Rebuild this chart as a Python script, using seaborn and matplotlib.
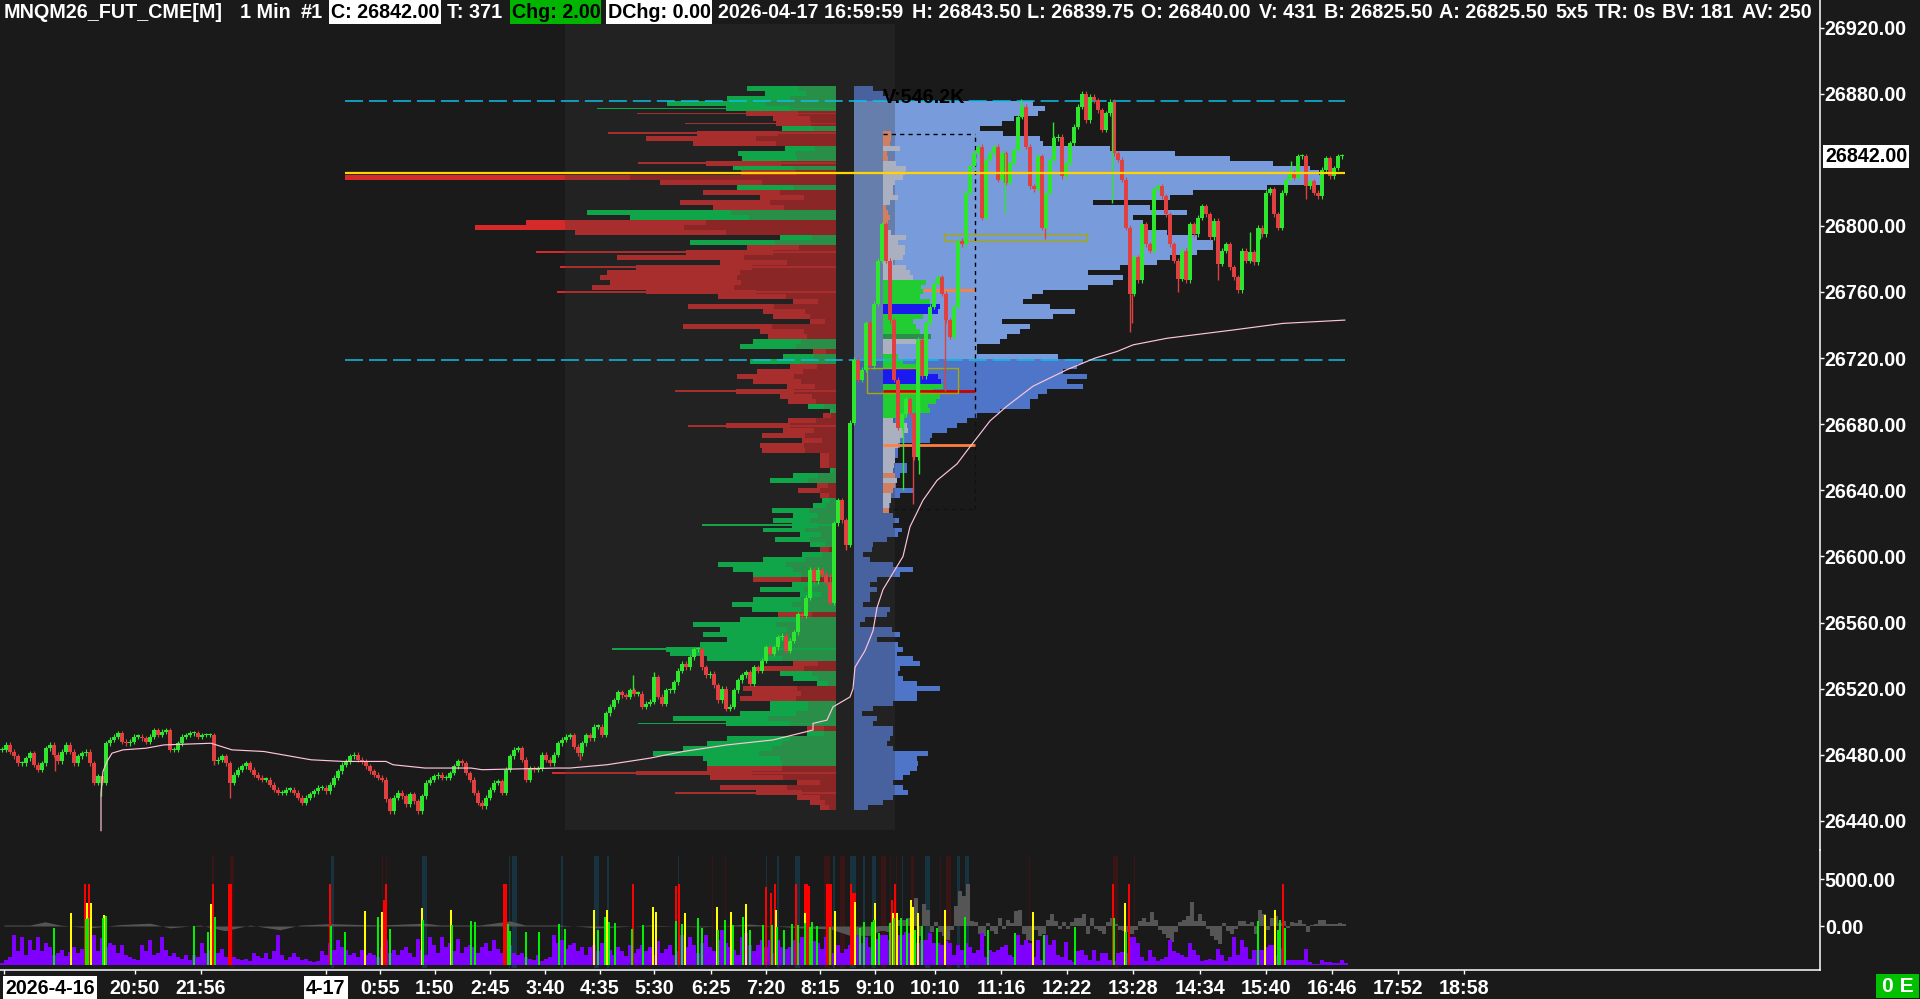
import numpy as np
import pandas as pd
import matplotlib
matplotlib.use('Agg')
import matplotlib.pyplot as plt
from matplotlib.patches import Rectangle
import seaborn as sns

# price candles, one every 4 bars
close = [26483,26486,26482,26479,26475,26475,26478,26481,26474,26471,26475,26484,26486,26480,26476,26482,26486,26482,26475,26479,
26481,26482,26475,26463,26467,26463,26487,26489,26491,26493,26488,26487,26488,26491,26491,26490,26488,26491,26495,26492,
26494,26495,26483,26483,26487,26491,26492,26493,26493,26491,26492,26492,26492,26476,26477,26479,26475,26463,26468,26471,
26473,26475,26471,26468,26466,26465,26465,26462,26459,26457,26457,26459,26459,26457,26454,26451,26454,26456,26458,26460,
26460,26458,26462,26466,26470,26474,26476,26479,26480,26477,26476,26473,26470,26468,26466,26465,26453,26446,26454,26457,
26455,26450,26456,26452,26446,26455,26463,26465,26467,26468,26466,26466,26469,26473,26476,26475,26469,26465,26457,26451,
26449,26454,26459,26463,26464,26457,26471,26479,26483,26484,26477,26465,26472,26471,26472,26480,26477,26475,26480,26487,
26489,26491,26492,26485,26481,26487,26492,26490,26497,26497,26492,26505,26509,26513,26518,26516,26515,26519,26517,26517,
26509,26511,26512,26527,26515,26511,26519,26519,26524,26531,26535,26533,26539,26544,26544,26533,26528,26529,26522,26513,
26520,26508,26509,26519,26525,26528,26530,26523,26533,26531,26537,26545,26541,26545,26551,26552,26543,26549,26554,26565,
26564,26575,26592,26585,26592,26589,26584,26572,26620,26634,26622,26607,26681,26719,26707,26713,26741,26715,26753,26779,
26801,26779,26743,26707,26678,26686,26695,26686,26660,26731,26709,26741,26751,26765,26769,26759,26743,26733,26751,26791,
26789,26820,26836,26844,26848,26805,26840,26844,26848,26828,26844,26826,26838,26846,26866,26872,26848,26824,26822,26842,
26799,26820,26840,26853,26854,26830,26838,26850,26860,26872,26880,26864,26878,26876,26870,26858,26868,26875,26844,26840,
26828,26799,26759,26781,26767,26801,26789,26785,26822,26824,26818,26807,26789,26779,26768,26785,26767,26801,26795,26805,
26812,26807,26793,26803,26777,26785,26789,26775,26769,26761,26785,26779,26784,26778,26799,26795,26820,26822,26807,26799,
26820,26828,26832,26829,26842,26842,26824,26827,26820,26818,26834,26841,26830,26835,26842,26842]
# long wicks: bar, far end price
wick_bar = [101,230,55,214,480,580,633,654,830,846,913,903,919,945,1005,1021,1045,1053,1112,1130,1132,1178,1218,1250,1260,1291,1306]
wick_end = [26455,26454,26470,26474,26449,26477,26528,26530,26590,26604,26632,26640,26650,26700,26808,26877,26792,26863,26814,26736,26741,26760,26767,26796,26792,26839,26816]

# VWAP study
vwap_bar = [101,101,103,107,112,123,146,164,211,232,264,311,343,386,393,425,471,482,557,
570,607,650,683,727,773,813,813,827,833,850,853,855,865,873,877,883,893,903,910,
923,937,957,967,990,1007,1033,1067,1095,1117,1133,1167,1233,1283,1345]
vwap_val = [26434,26457,26470,26476,26481,26483,26484,26486,26487,26483,26482,26477,26476,26476,26474,26472,26472,26471,26472,
26472,26474,26478,26482,26486,26489,26495,26499,26501,26509,26515,26520,26533,26543,26555,26569,26580,26590,26600,26618,
26634,26646,26656,26664,26682,26691,26703,26713,26720,26724,26728,26732,26737,26741,26743]

# bid/ask profile, positive is green, negative is red
left_delta = [89,71,109,169,110,-90,-63,-60,54,-139,-190,-143,51,98,94,-130,103,-95,-491,-176,99,-133,-76,-156,-123,249,206,
-310,-361,-261,56,146,-89,-150,-219,-116,-200,-229,-236,-226,-244,-190,-118,-43,-148,-73,-63,-26,-153,-76,-68,83,96,-23,53,86,
-46,-79,-99,-83,-49,-100,-56,-48,28,6,-13,-48,-110,-53,-74,-34,-76,-74,-16,-16,-16,6,43,66,-19,-38,-16,
14,23,64,43,63,44,73,36,61,26,-16,34,73,118,103,83,-83,44,76,36,83,104,84,-58,96,143,116,133,109,136,170,166,129,-43,-76,56,43,
19,-93,-84,-96,66,66,96,163,110,-29,29,109,129,153,183,133,129,-129,-200,-126,-39,-116,-80,-39,-26,-16]
# single tick rows that stick out of the profile
thin_price = [26871,26868,26862,26856,26838,26784,26775,26760,26700,26679,26619,26544,26499,26469,26457]
thin_delta = [239,-199,-151,-228,-198,-300,-276,-279,-161,-148,134,224,198,-284,-161]

# volume profile of the whole range
right_vol = [19,29,35,179,191,184,160,148,126,149,186,189,256,321,376,419,456,465,470,470,413,339,316,239,296,333,279,289,286,313,
343,359,359,343,316,303,266,234,269,259,234,189,178,169,196,221,199,148,176,166,153,146,123,123,204,229,223,209,233,213,229,193,
184,176,176,146,123,113,103,93,78,76,46,44,44,39,53,53,46,42,42,59,46,33,36,33,39,45,39,48,44,33,19,18,9,16,39,59,46,23,16,23,16,
16,9,36,33,11,6,38,46,23,44,49,43,59,66,46,44,49,63,86,63,63,39,19,8,23,19,39,39,36,33,39,74,63,64,63,56,49,39,49,54,39,29,14]

# day session profile
day_vol = [8,8,7,17,4,5,13,23,22,20,12,10,10,15,7,3,5,7,5,3,8,23,15,22,22,20,10,23,27,30,
43,38,40,37,47,57,55,40,30,33,37,48,33,10,13,15,20,33,40,55,58,60,50,57,53,45,47,23,10,
24,25,20,17,15,12,12,12,11,10,12,14,12,10,8,8,6,6]
day_kind = list('ooogoogggggggggoooooggggggggggGGGGGBBGGGGDgggGGGBBBGGGGGGGg'
                'ggggggggggogoogggo')

# bottom study
vol = [2,5,8,30,14,28,10,25,15,28, 14,22,18,10,12,15,9,13,18,12, 16,20,28,30,14,27,18,22,20,12,
20,10,8,6,5,20,14,25,10,12, 28,15,9,12,8,6,10,5,10,8, 22,12,15,9,12,16,8,5,8,6,
5,6,4,12,9,7,12,6,14,30, 10,5,8,12,8,5,6,4,3,4, 14,10,22,15,25,18,15,10,12,8,
15,10,12,10,8,18,25,12,15,10, 15,18,12,8,26,15,10,28,20,12, 28,18,22,14,26,12,18,20,18,12,
18,22,14,25,16,12,30,20,12,10, 12,8,6,5,10,4,6,8,30,22, 25,16,20,22,14,18,10,18,20,14,
22,12,15,10,18,14,9,20,12,16, 20,14,18,10,24,12,16,20,10,14, 30,18,28,20,12,22,30,18,14,25,
35,22,18,15,10,28,32,20,14,20, 25,18,25,12,25,18,16,18,25,22, 28,18,30,24,22,16,28,18,12,20,
12,16,20,14,30,22,28,18,30,26,
30,30,25,30,30,30,33,32,30,22,25,25,32,22,22,20,24,22,10,20,15,22,18,12,15,32,8,15,13,15,18,20,10,8,30,20,25,22,8,25,
5,30,20,25,10,8,23,5,3,14,15,10,5,15,4,12,12,5,4,12,13,12,28,28,22,8,4,15,8,4,6,8,25,14,12,10,8,22,15,10,
4,5,6,5,16,10,4,8,28,10,25,18,6,15,15,15,18,20,20,10,17,5,5,5,5,5,16,3,1,1,5,3,3,2,2,5,2]
red_bar = [85,89,213,229,231,330,384,386,504,506,633,676,679,766,771,775,796,805,807,809,827,829,831,851,853,855,892,895,1113,1129,1283]
red_h = [81,81,81,81,81,81,65,81,81,81,81,79,81,78,72,81,81,81,81,79,81,81,81,81,72,72,65,81,81,81,81]
yellow_bar = [71,87,91,104,211,365,382,422,451,594,607,653,656,685,717,731,746,776,805,835,855,875,893,897,911,913,918,945,1033,1125,1265,1275]
yellow_h = [52,62,62,50,61,54,53,57,55,55,55,58,53,52,58,53,61,55,52,54,63,62,52,52,65,58,52,55,53,62,50,55]
green_bar = [54,86,88,103,106,194,208,215,331,345,378,390,423,452,471,475,508,510,526,539,559,565,598,605,609,615,632,643,676,682,698,
702,718,725,733,743,750,763,772,777,784,792,798,805,810,812,817,830,860,864,872,874,879,890,894,901,907,915,922,937,965,988,1015,1044,1075,1114,1126,1258,1278,1280,1285]
green_h = [37,46,47,47,49,39,33,48,39,33,48,36,45,40,44,43,41,34,33,33,41,36,35,48,43,42,36,40,44,41,47,
37,35,45,40,48,35,40,40,38,35,41,40,42,38,43,39,38,37,43,43,45,32,42,47,47,46,35,39,37,48,35,32,30,38,47,33,44,35,45,37]
# delta study: quiet part as pivots, busy part every 4 bars from bar 880
delta_bar = [4,30,45,60,90,120,150,170,200,225,250,280,300,330,380,425,440,480,510,525,560,600,650,700,750,800,830,850,870,880]
delta_val = [100,100,450,100,-200,150,300,-200,100,-500,100,-400,100,250,100,300,100,100,550,100,100,-200,100,-100,200,-200,-300,-1000,-1000,-500]
delta_late = [-5,-5,-6,4,5,6,6,8,15,28,-10,22,16,-6,4,-6,-10,-14,-4,20,35,30,42,5,4,-8,-10,3,-5,-8,8,-3,6,3,15,16,-8,-14,-15,-4,
-10,-8,6,12,5,-3,4,-3,4,8,8,12,-8,8,-3,-5,-8,4,8,2,-4,-5,-6,-8,-4,5,8,4,14,6,-4,-8,-12,-16,-6,4,6,10,24,5,
12,5,-3,-10,-14,-18,3,-5,-8,-3,5,5,2,4,-8,16,12,-4,8,10,3,5,-2,4,3,6,2,-6,1,2,6,6,2,2,2,3,2]
blue_band = [332,424,509,514,562,596,608,678,766,778,797,834,853,864,874,902,927,958,967]
blue_band_w = [3,5,1,5,2,5,2,1,1,2,5,2,6,2,4,1,5,3,4]
red_band = [213,232,382,386,712,725,827,842,883,890,896,912,940,948,1029,1115,1134]
red_band_w = [2,4,1,1,1,1,6,5,5,1,1,3,1,5,1,5,1]

price_ticks = [26920,26880,26800,26760,26720,26680,26640,26600,26560,26520,26480,26440]
time_bars = [50,135,201,326,380,435,490,545,600,654,711,766,820,875,935,1001,1067,1133,1200,1266,1332,1398,1464]
time_labels = ['2026-4-16','20:50','21:56','4-17','0:55','1:50','2:45','3:40','4:35','5:30','6:25','7:20','8:15','9:10',
               '10:10','11:16','12:22','13:28','14:34','15:40','16:46','17:52','18:58']

BG = '#1a1a1a'
W, H = 1920, 999
sns.set_theme(style='dark', rc={'figure.facecolor': BG, 'axes.facecolor': 'none', 'savefig.facecolor': BG})
plt.rcParams['font.family'] = ['Liberation Sans', 'DejaVu Sans']
plt.rcParams['font.weight'] = 'bold'
FS = 14.2


def px_axes(x0, y0, x1, y1, z):
    a = fig.add_axes([x0 / W, 1 - y1 / H, (x1 - x0) / W, (y1 - y0) / H], zorder=z)
    a.set_facecolor('none')
    return a


def price_at(y):
    return 26920 - (y - 27.5) / 1.653


fig = plt.figure(figsize=(W / 100, H / 100), dpi=100)
ylim = (price_at(850), price_at(0))

# bid/ask profile grows left from its base
ax_l = px_axes(345, 0, 836, 850, 1)
left = pd.DataFrame({'price': 26883 - 3 * np.arange(len(left_delta)), 'vol': np.abs(left_delta),
                     'side': np.where(np.array(left_delta) > 0, 'up', 'down')})
left['inner'] = left['vol'] * 0.42
sns.barplot(data=left, x='vol', y='price', hue='side', orient='y', native_scale=True, dodge=False, width=1,
            palette={'up': '#00d250', 'down': '#d62a2a'}, saturation=1, linewidth=0, errorbar=None, legend=False, ax=ax_l)
sns.barplot(data=left, x='inner', y='price', hue='side', orient='y', native_scale=True, dodge=False, width=1,
            palette={'up': '#25b24f', 'down': '#ac2020'}, saturation=1, linewidth=0, errorbar=None, legend=False, ax=ax_l)
ax_l.barh(thin_price, np.abs(thin_delta), height=1.0, lw=0,
          color=np.where(np.array(thin_delta) > 0, '#00d250', '#d62a2a'))
ax_l.set_xlim(491, 0)
ax_l.set_ylim(*ylim)
ax_l.axis('off')

# volume profile grows right, lighter inside the value area
ax_r = px_axes(854, 0, 1345, 850, 1)
right = pd.DataFrame({'price': 26883 - 3 * np.arange(len(right_vol)), 'vol': right_vol})
right['area'] = np.where((right['price'] < 26876) & (right['price'] > 26719), 'in', 'out')
sns.barplot(data=right, x='vol', y='price', hue='area', orient='y', native_scale=True, dodge=False, width=1,
            palette={'in': '#789bdc', 'out': '#4e75c8'}, saturation=1, linewidth=0, errorbar=None, legend=False, ax=ax_r)
ax_r.set_xlim(0, 491)
ax_r.set_ylim(*ylim)
ax_r.axis('off')

# main price panel sits on top of the profiles
ax = px_axes(0, 0, 1820, 850, 3)
ax.set_xlim(0, 1820)
ax.set_ylim(*ylim)
ax.axvspan(565, 895, ymin=1 - 830 / 850, ymax=1 - 24 / 850, color='#363636', alpha=0.287, lw=0, zorder=1)

kind_color = {'g': '#aab0c0', 'o': '#d08060', 'G': '#22cc33', 'B': '#1a1af0', 'D': '#2a8f48'}
day_price = 26883 - 3 * (9 + np.arange(len(day_vol)))
ax.barh(day_price, day_vol, height=3.02, left=883, color=[kind_color[k] for k in day_kind[:len(day_vol)]], lw=0, zorder=2)

ax.hlines([26875.5, 26719], 345, 1345, color='#10bfe8', lw=1.1, ls=(0, (11.8, 3.9)), zorder=3)
ax.hlines(26700, 883, 975, color='#cc0000', lw=2, zorder=3)
ax.hlines([26761, 26667.5], [923, 883], 975, color='#ff7f3f', lw=2, zorder=3)
ax.vlines(975, 26690, 26855.6, color='black', lw=1, ls=(0, (3, 3)), zorder=3)
ax.hlines(26855.6, 883, 975, color='black', lw=1, ls=(0, (3, 3)), zorder=3)
# the lower part of the dotted box runs over the empty background
ax.vlines(975, 26629, 26690, color='#111111', lw=1, ls=(0, (3, 3)), zorder=3)
ax.hlines(26629, 893, 975, color='#111111', lw=1, ls=(0, (3, 3)), zorder=3)
ax.add_patch(Rectangle((944, 26791), 143, 4, fill=False, ec='#a8a800', lw=1, zorder=3))
ax.add_patch(Rectangle((867, 26699), 91, 15, fill=False, ec='#a8a800', lw=1, zorder=3))
ax.text(883, price_at(98), 'V:546.2K', color='black', fontsize=FS, va='center', ha='left', zorder=3)

# candles
cl = np.array(close, dtype=float)
op = np.r_[cl[0], cl[:-1]]
bars = 2 + 4 * np.arange(len(cl))
up = cl >= op
colors = np.where(up, '#2ee62e', '#e0403f')
ax.vlines(bars, np.minimum(op, cl) - 1.5, np.maximum(op, cl) + 1.5, color=colors, lw=0.8, zorder=4)
ax.bar(bars, np.maximum(np.abs(cl - op), 0.8), width=3.6, bottom=np.minimum(op, cl), color=colors, lw=0, zorder=4)
nearest = [min(len(cl) - 1, (b - 2) // 4) for b in wick_bar]
ax.vlines(wick_bar, cl[nearest], wick_end, color=colors[nearest], lw=1, zorder=4)

sns.lineplot(x=vwap_bar, y=vwap_val, estimator=None, sort=False, color='#ffc4dc', lw=0.85, ax=ax, zorder=5)
ax.hlines(26832.2, 345, 1345, color='#ffd400', lw=1.6, zorder=6)

ax.yaxis.tick_right()
ax.set_yticks(price_ticks, [f'{p}.00' for p in price_ticks])
ax.tick_params(axis='y', colors='white', labelsize=FS, length=3, width=1, pad=0.5, right=True)
ax.set_xticks([])
ax.set_xlabel('')
ax.set_ylabel('')
for s in ('top', 'bottom', 'left'):
    ax.spines[s].set_visible(False)
ax.spines['right'].set_visible(True)
ax.spines['right'].set_color('white')
ax.spines['right'].set_linewidth(1.1)
ax.text(1825, 26842, '26842.00', color='black', fontsize=FS, va='center', ha='left', clip_on=False, zorder=7,
        bbox=dict(facecolor='white', edgecolor='none', pad=1.6))

# study panel
ax_s = px_axes(0, 850, 1820, 970, 2)
ax_s.set_xlim(0, 1820)
ax_s.set_ylim(-44 * 106.4, 76 * 106.4)
for b, w in zip(blue_band, blue_band_w):
    ax_s.axvspan(b - w / 2, b + w / 2, ymin=2 / 120, ymax=114 / 120, color='#17333f', lw=0, zorder=1)
for b, w in zip(red_band, red_band_w):
    ax_s.axvspan(b - w / 2, b + w / 2, ymin=2 / 120, ymax=114 / 120, color='#3a1515', lw=0, zorder=1)
ax_s.fill_between(delta_bar, 0, delta_val, color='#555555', lw=0, zorder=2)
ax_s.bar(880 + 4 * np.arange(len(delta_late)), np.array(delta_late) * 106.4, width=3.4, color='#555555', lw=0, zorder=2)
ax_s.yaxis.tick_right()
ax_s.set_yticks([5000, 0], ['5000.00', '0.00'])
ax_s.tick_params(axis='y', colors='white', labelsize=FS, length=3, width=1, pad=0.5, right=True)
ax_s.set_xticks(time_bars, time_labels)
ax_s.tick_params(axis='x', colors='white', labelsize=FS, length=3, width=1, pad=3.5, bottom=True)
ax_s.xaxis.get_major_ticks()[0].tick1line.set_visible(False)
ax_s.set_xticks([4], minor=True)
ax_s.tick_params(axis='x', which='minor', colors='white', length=3, width=1, bottom=True)
for tick in ax_s.get_xticklabels():
    if '-' in tick.get_text():
        tick.set_color('black')
        tick.set_bbox(dict(facecolor='white', edgecolor='none', pad=1.8))
for s in ('top', 'left'):
    ax_s.spines[s].set_visible(False)
for s in ('bottom', 'right'):
    ax_s.spines[s].set_visible(True)
    ax_s.spines[s].set_color('white')
    ax_s.spines[s].set_linewidth(1.1)

# volume bars and signal spikes, in pixels above the study base
ax_v = px_axes(0, 850, 1820, 965, 4)
sns.barplot(x=2 + 4 * np.arange(len(vol)), y=vol, native_scale=True, width=1, color='#7f00ff', saturation=1,
            linewidth=0, errorbar=None, ax=ax_v)
ax_v.bar(red_bar, red_h, width=2, color='#ff0000', lw=0)
ax_v.bar(yellow_bar, yellow_h, width=2, color='#ffff00', lw=0)
ax_v.bar(green_bar, green_h, width=2, color='#00f000', lw=0)
ax_v.set_xlim(0, 1820)
ax_v.set_ylim(0, 115)
ax_v.axis('off')


def head(x, text, color='white', box=None, x1=None):
    if box:
        fig.add_artist(Rectangle((x / W, 1 - 24 / H), (x1 - x) / W, 24 / H, transform=fig.transFigure, color=box, lw=0))
        x += 2
    fig.text(x / W, 1 - 12 / H, text, color=color, fontsize=FS, va='center', ha='left')


head(4, 'MNQM26_FUT_CME[M]')
head(240, '1 Min')
head(301, '#1')
head(329, 'C: 26842.00', 'black', 'white', 441)
head(447, 'T: 371')
head(510, 'Chg: 2.00', 'black', '#00b400', 601)
head(606, 'DChg: 0.00', 'black', 'white', 712)
head(718, '2026-04-17 16:59:59')
head(912, 'H: 26843.50')
head(1027, 'L: 26839.75')
head(1141, 'O: 26840.00')
head(1259, 'V: 431')
head(1324, 'B: 26825.50')
head(1439, 'A: 26825.50')
head(1555, '5x5')
head(1595, 'TR: 0s')
head(1662, 'BV: 181')
head(1742, 'AV: 250')

fig.add_artist(Rectangle((1876 / W, 1 - 998 / H), 43 / W, 24 / H, transform=fig.transFigure, color='#00c000', lw=0))
fig.text(1897.5 / W, 1 - 986.5 / H, '0 E', color='white', fontsize=FS + 1, va='center', ha='center')

fig.savefig('out.png', dpi=100, facecolor=BG)
